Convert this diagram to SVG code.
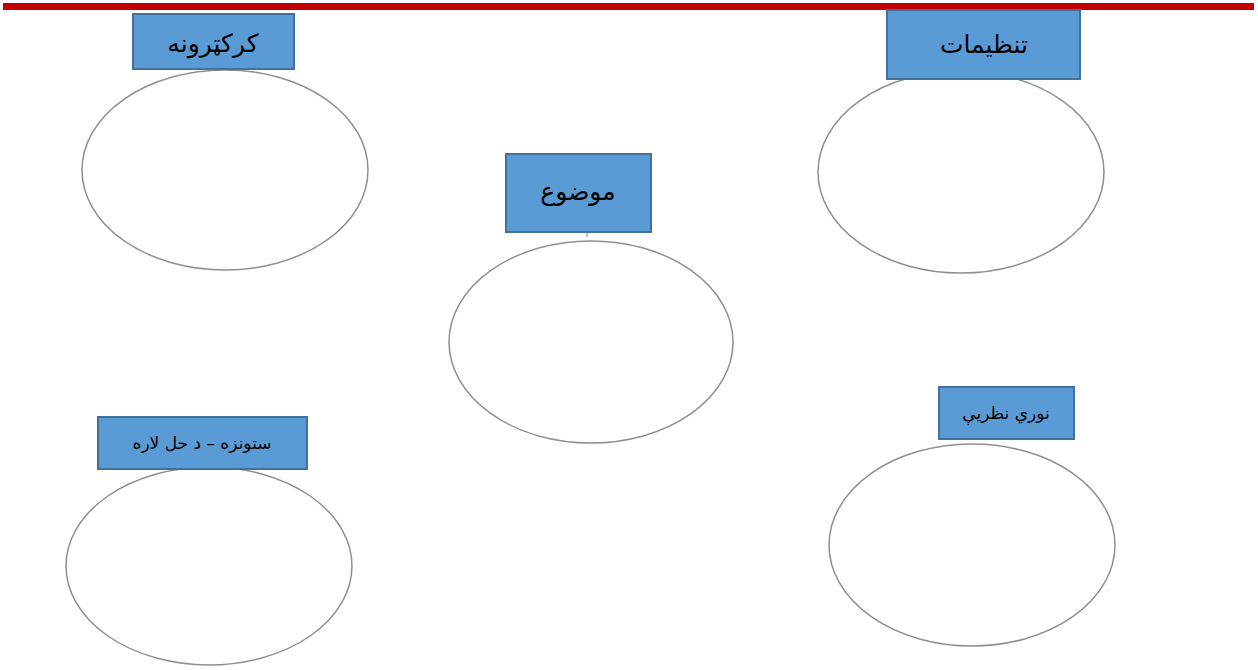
<svg xmlns="http://www.w3.org/2000/svg" width="1258" height="670" viewBox="0 0 1258 670">
<defs>
<style>
.bar{fill:#C00000}
.box{fill:#5B9BD5;stroke:#41719C;stroke-width:2}
.ell{fill:#ffffff;stroke:#8f8f8f;stroke-width:1.5}
.lbl{font-family:"DejaVu Sans",sans-serif;fill:#000;text-anchor:middle;direction:rtl}
.big{font-size:25px}
.small{font-size:17px}
.conn{stroke:#9a9a9a;stroke-width:1.2;fill:none}
</style>
</defs>
<rect class="bar" x="3" y="3" width="1251" height="7"/>
<g id="connectors">
<line class="conn" x1="587" y1="233" x2="587" y2="237"/>
</g>
<g id="node-characters">
<ellipse class="ell" cx="225" cy="170" rx="143" ry="100"/>
<rect class="box" x="133" y="14" width="161" height="55"/>
<text class="lbl big" x="213" y="52">كركټرونه</text>
</g>
<g id="node-settings">
<ellipse class="ell" cx="961" cy="172" rx="143" ry="101"/>
<rect class="box" x="887" y="10" width="193" height="69"/>
<text class="lbl big" x="984" y="53">تنظيمات</text>
</g>
<g id="node-topic">
<ellipse class="ell" cx="591" cy="342" rx="142" ry="101"/>
<rect class="box" x="506" y="154" width="145" height="78"/>
<text class="lbl big" x="578" y="200">موضوع</text>
</g>
<g id="node-problem">
<ellipse class="ell" cx="209" cy="566" rx="143" ry="99"/>
<rect class="box" x="98" y="417" width="209" height="52"/>
<text class="lbl small" x="202" y="449">ستونزه – د حل لاره</text>
</g>
<g id="node-theories">
<ellipse class="ell" cx="972" cy="545" rx="143" ry="101"/>
<rect class="box" x="939" y="387" width="135" height="52"/>
<text class="lbl small" x="1006" y="419">نوري نظريې</text>
</g>
</svg>
